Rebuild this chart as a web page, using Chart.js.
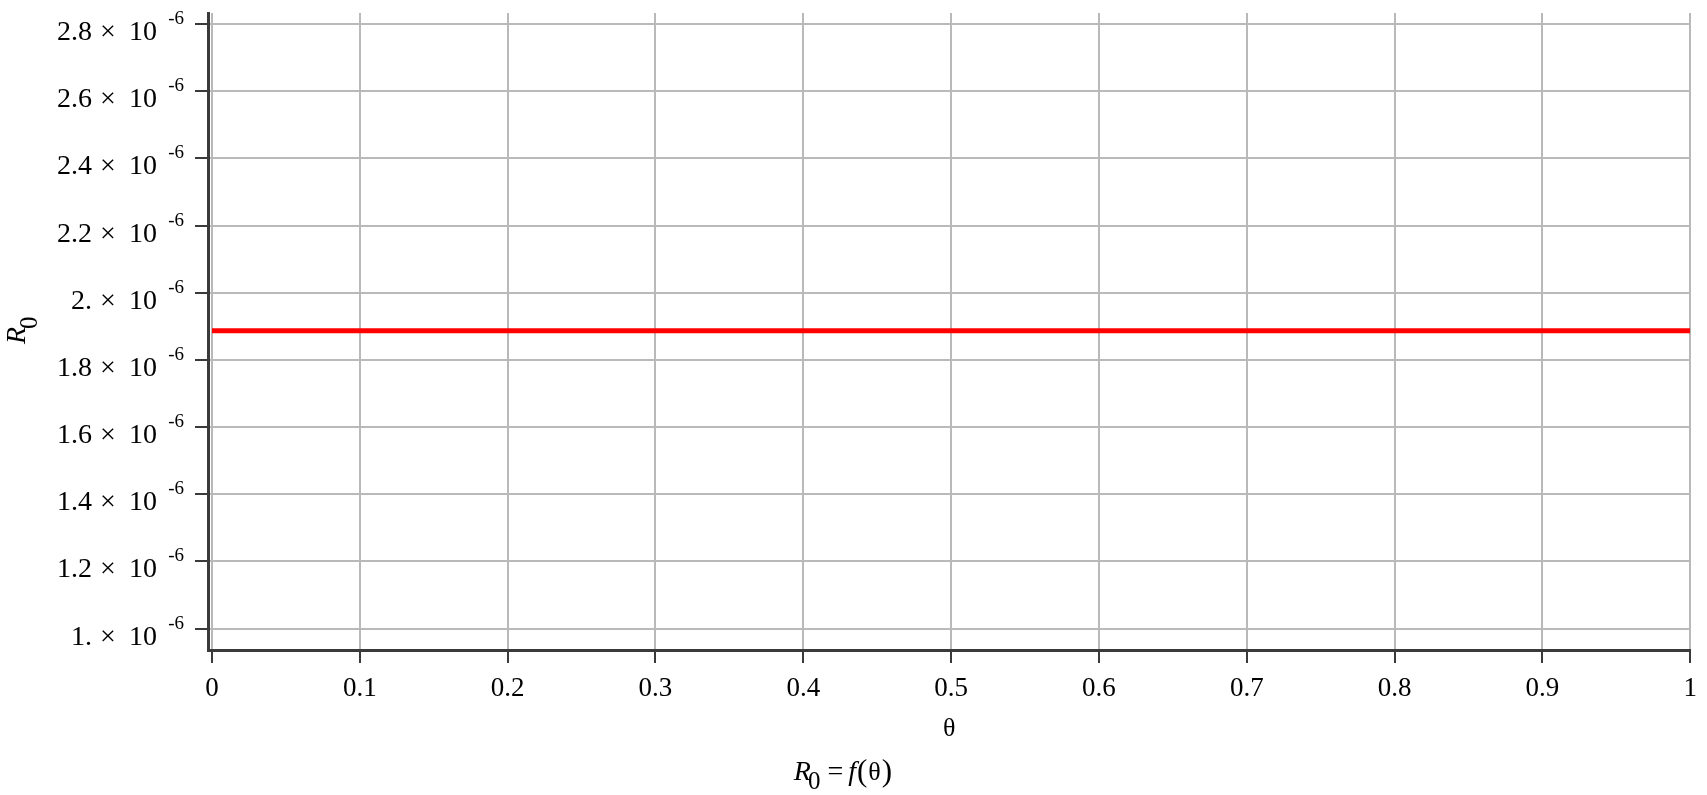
<!DOCTYPE html>
<html>
<head>
<meta charset="utf-8">
<script src="https://cdn.jsdelivr.net/npm/chart.js@4"></script>
<style>
  html, body { margin: 0; padding: 0; background: #fff; }
  #wrap { width: 1707px; height: 795px; }
</style>
</head>
<body>
<div id="wrap"><canvas id="c" width="1707" height="795"></canvas></div>
<script>
// R0 = f(theta): flat line
const thetaValues = [0, 0.25, 0.5, 0.75, 1];
const r0Values = [1.887e-6, 1.887e-6, 1.887e-6, 1.887e-6, 1.887e-6];

const xTicks = [0, 0.1, 0.2, 0.3, 0.4, 0.5, 0.6, 0.7, 0.8, 0.9, 1];
const xTickLabels = ['0', '0.1', '0.2', '0.3', '0.4', '0.5', '0.6', '0.7', '0.8', '0.9', '1'];
const yTicks = [1.0e-6, 1.2e-6, 1.4e-6, 1.6e-6, 1.8e-6, 2.0e-6, 2.2e-6, 2.4e-6, 2.6e-6, 2.8e-6];
const yTickMantissas = ['1.', '1.2', '1.4', '1.6', '1.8', '2.', '2.2', '2.4', '2.6', '2.8'];
const yExponent = '-6';

const SERIF = '"Liberation Serif", "Times New Roman", serif';
const GRID = '#b9b9b9';
const AXIS = '#3a3a3a';

// y tick labels "m × 10^-6", R0 axis title and caption, drawn with real text
const mathText = {
  id: 'mathText',
  afterDraw(chart) {
    const ctx = chart.ctx;
    const y = chart.scales.y;
    ctx.save();
    ctx.fillStyle = '#000';
    ctx.textBaseline = 'alphabetic';
    yTicks.forEach((v, i) => {
      const py = y.getPixelForValue(v);
      ctx.font = '19px ' + SERIF;
      ctx.textAlign = 'right';
      ctx.fillText(yExponent, 184, py + 0);
      ctx.font = '28px ' + SERIF;
      ctx.fillText('10', 157, py + 16);
      ctx.textAlign = 'center';
      ctx.fillText('\u00d7', 108, py + 16);
      ctx.textAlign = 'right';
      ctx.fillText(yTickMantissas[i], 92, py + 16);
    });

    // rotated y title R0
    ctx.save();
    ctx.translate(25, 344);
    ctx.rotate(-Math.PI / 2);
    ctx.textAlign = 'left';
    ctx.font = 'italic 28px ' + SERIF;
    ctx.fillText('R', 0, 0);
    const rw = ctx.measureText('R').width;
    ctx.font = '25px ' + SERIF;
    ctx.fillText('0', rw - 2, 12);
    ctx.restore();

    // caption R0 = f(θ)
    const parts = [
      { t: 'R', f: 'italic 28px ', dy: 0 },
      { t: '0', f: '25px ', dy: 9, gap: -3 },
      { t: '=', f: '28px ', dy: 0, gap: 7 },
      { t: 'f', f: 'italic 28px ', dy: 0, gap: 5 },
      { t: '(', f: '31px ', dy: 1, gap: 1 },
      { t: '\u03b8', f: '26px ', dy: 0, gap: 1 },
      { t: ')', f: '31px ', dy: 1, gap: 1 }
    ];
    let total = 0;
    parts.forEach(p => { ctx.font = p.f + SERIF; p.w = ctx.measureText(p.t).width; total += p.w + (p.gap || 0); });
    let cx = 843 - total / 2;
    ctx.textAlign = 'left';
    parts.forEach(p => {
      cx += (p.gap || 0);
      ctx.font = p.f + SERIF;
      ctx.fillText(p.t, cx, 780 + p.dy);
      cx += p.w;
    });
    ctx.restore();
  }
};

new Chart(document.getElementById('c'), {
  type: 'line',
  data: {
    datasets: [{
      label: 'R0',
      data: thetaValues.map((t, i) => ({ x: t, y: r0Values[i] })),
      borderColor: '#ff0000',
      borderWidth: 5,
      pointRadius: 0,
      fill: false,
      tension: 0
    }]
  },
  options: {
    responsive: false,
    animation: false,
    layout: { padding: { left: 0, right: 8, top: 13, bottom: 0 } },
    plugins: { legend: { display: false }, tooltip: { enabled: false } },
    scales: {
      x: {
        type: 'linear',
        min: -0.0027,
        max: 1,
        afterBuildTicks: s => { s.ticks = xTicks.map(v => ({ value: v })); },
        afterFit: s => { s.height = 145; },
        grid: { color: GRID, lineWidth: 2, tickColor: AXIS, tickLength: 13, tickWidth: 2 },
        border: { color: AXIS, width: 3 },
        ticks: {
          color: '#000',
          padding: 10,
          maxRotation: 0,
          autoSkip: false,
          font: { family: SERIF, size: 27 },
          callback: v => { const i = xTicks.indexOf(v); return i >= 0 ? xTickLabels[i] : ''; }
        },
        title: {
          display: true,
          text: '\u03b8',
          color: '#000',
          font: { family: SERIF, size: 26 },
          padding: { top: 0, bottom: 50 }
        }
      },
      y: {
        type: 'linear',
        min: 0.936e-6,
        max: 2.833e-6,
        afterBuildTicks: s => { s.ticks = yTicks.map(v => ({ value: v })); },
        afterFit: s => { s.width = 208; },
        grid: { color: GRID, lineWidth: 2, tickColor: AXIS, tickLength: 13, tickWidth: 2 },
        border: { color: AXIS, width: 3 },
        ticks: { display: false }
      }
    }
  },
  plugins: [mathText]
});
</script>
</body>
</html>
